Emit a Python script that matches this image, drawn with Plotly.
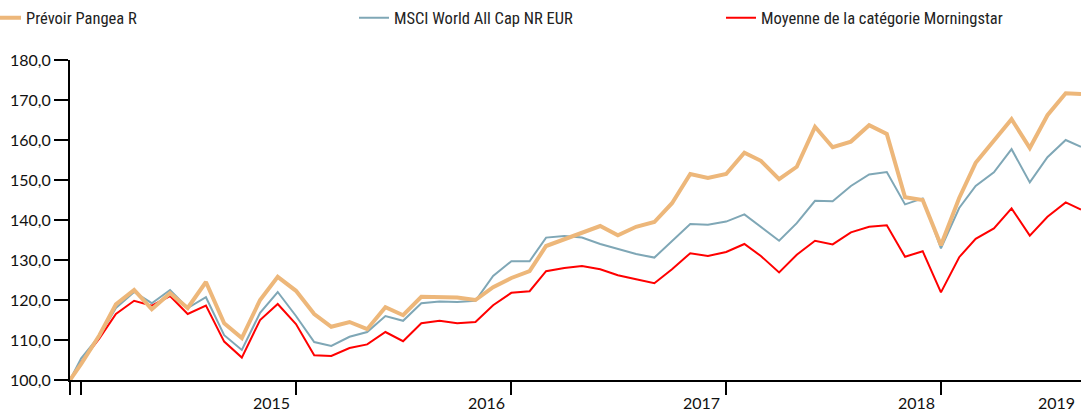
import pandas as pd
import plotly.graph_objects as go

start_date = "2014-12-12"
end_date = "2019-08-26"
month_ends = [d.strftime("%Y-%m-%d") for d in pd.date_range("2014-12-31", periods=56, freq="ME")]
dates = [start_date] + month_ends + [end_date]

pangea = [100, 104, 111.2, 118.9, 122.5, 117.7, 121.7, 118, 124.5, 114.2, 110.5, 120, 125.8,
          122.3, 116.5, 113.3, 114.5, 112.7, 118.2, 116.2, 120.8, 120.7, 120.6, 120, 123.2, 125.5,
          127.2, 133.5, 135.2, 137, 138.5, 136.2, 138.3, 139.5, 144.2, 151.5, 150.5, 151.5, 156.8,
          154.8, 150.2, 153.3, 163.3, 158.2, 159.6, 163.7, 161.5, 145.7, 145, 133.7, 145.5, 154.3,
          160, 165.2, 158, 166.2, 171.7, 171.5]
msci = [100, 105.4, 111, 118, 122, 119.2, 122.5, 118, 120.7, 111.2, 107.5, 116.8, 122,
        116, 109.5, 108.5, 110.8, 112, 116, 114.8, 119.2, 119.6, 119.5, 119.8, 126, 129.7,
        129.7, 135.6, 136, 135.6, 134, 132.7, 131.5, 130.6, 134.7, 139, 138.8, 139.6, 141.4,
        138.3, 134.8, 139.2, 144.8, 144.7, 148.5, 151.4, 152, 143.9, 145.4, 132.9, 143, 148.5,
        151.9, 157.7, 149.4, 155.7, 160, 158.3]
morningstar = [100, 104.5, 110.4, 116.5, 119.8, 118.6, 121, 116.5, 118.6, 109.6, 105.6, 115, 119,
               114, 106.2, 106, 108, 108.9, 112, 109.7, 114.2, 114.8, 114.2, 114.5, 118.7, 121.8,
               122.2, 127.2, 128, 128.5, 127.7, 126.2, 125.2, 124.2, 127.7, 131.7, 131, 132, 134,
               131, 126.9, 131.3, 134.8, 133.9, 136.9, 138.3, 138.7, 130.8, 132.2, 121.9, 130.7, 135.3,
               137.9, 142.9, 136.1, 140.8, 144.4, 142.6]

series_names = ["Prévoir Pangea R", "MSCI World All Cap NR EUR", "Moyenne de la catégorie Morningstar"]
year_labels = ["2015", "2016", "2017", "2018", "2019"]
year_label_dates = ["2015-12-31", "2016-12-31", "2017-12-31", "2018-12-31", end_date]
year_tick_dates = [start_date, "2014-12-31", "2015-12-31", "2016-12-31", "2017-12-31", "2018-12-31"]

W, H = 1081, 413
ML, MR, MT, MB = 70, 0, 60, 33
PW = W - ML - MR

fig = go.Figure()
fig.add_trace(go.Scatter(x=dates, y=morningstar, mode="lines", name=series_names[2],
                         line=dict(color="#FF0000", width=2), legend="legend3"))
fig.add_trace(go.Scatter(x=dates, y=msci, mode="lines", name=series_names[1],
                         line=dict(color="#7FA7B6", width=2), legend="legend2"))
fig.add_trace(go.Scatter(x=dates, y=pangea, mode="lines", name=series_names[0],
                         line=dict(color="#EDB77A", width=4), legend="legend"))

legend_font = dict(family="Liberation Sans Narrow, Roboto Condensed, DejaVu Sans Condensed, sans-serif",
                   size=16.5, color="#222222")


def leg(px):
    return dict(x=(px - ML) / PW, xref="paper", xanchor="left",
                y=1 - 18 / H, yref="container", yanchor="middle",
                orientation="h", font=legend_font, bgcolor="rgba(0,0,0,0)",
                borderwidth=0, itemwidth=30)


annotations = []
for lab, d in zip(year_labels, year_label_dates):
    annotations.append(dict(x=d, xref="x", y=0, yref="paper", text=lab, showarrow=False,
                            xanchor="right", yanchor="middle", xshift=-4, yshift=-22,
                            font=dict(family="Lato, sans-serif", size=16, color="#111111")))

fig.update_layout(
    width=W, height=H,
    margin=dict(l=ML, r=MR, t=MT, b=MB, autoexpand=False),
    plot_bgcolor="white", paper_bgcolor="white",
    separators=", ",
    showlegend=True,
    legend=leg(-14), legend2=leg(354), legend3=leg(721),
    annotations=annotations,
    xaxis=dict(type="date", range=[start_date, end_date], showgrid=False, zeroline=False,
               showline=True, linecolor="black", linewidth=2,
               ticks="outside", tickmode="array", tickvals=year_tick_dates,
               ticklen=13, tickwidth=2, tickcolor="black", showticklabels=False),
    yaxis=dict(range=[100, 180], dtick=10, tick0=100, showgrid=False, zeroline=False,
               showline=True, linecolor="black", linewidth=2,
               ticks="outside", ticklen=14, tickwidth=2, tickcolor="black",
               tickformat=".1f",
               tickfont=dict(family="Lato, sans-serif", size=16, color="#111111")),
)

fig.write_html("out.html", config={"displayModeBar": False},
               post_script="document.body.style.margin='0';document.body.style.overflow='hidden';")
